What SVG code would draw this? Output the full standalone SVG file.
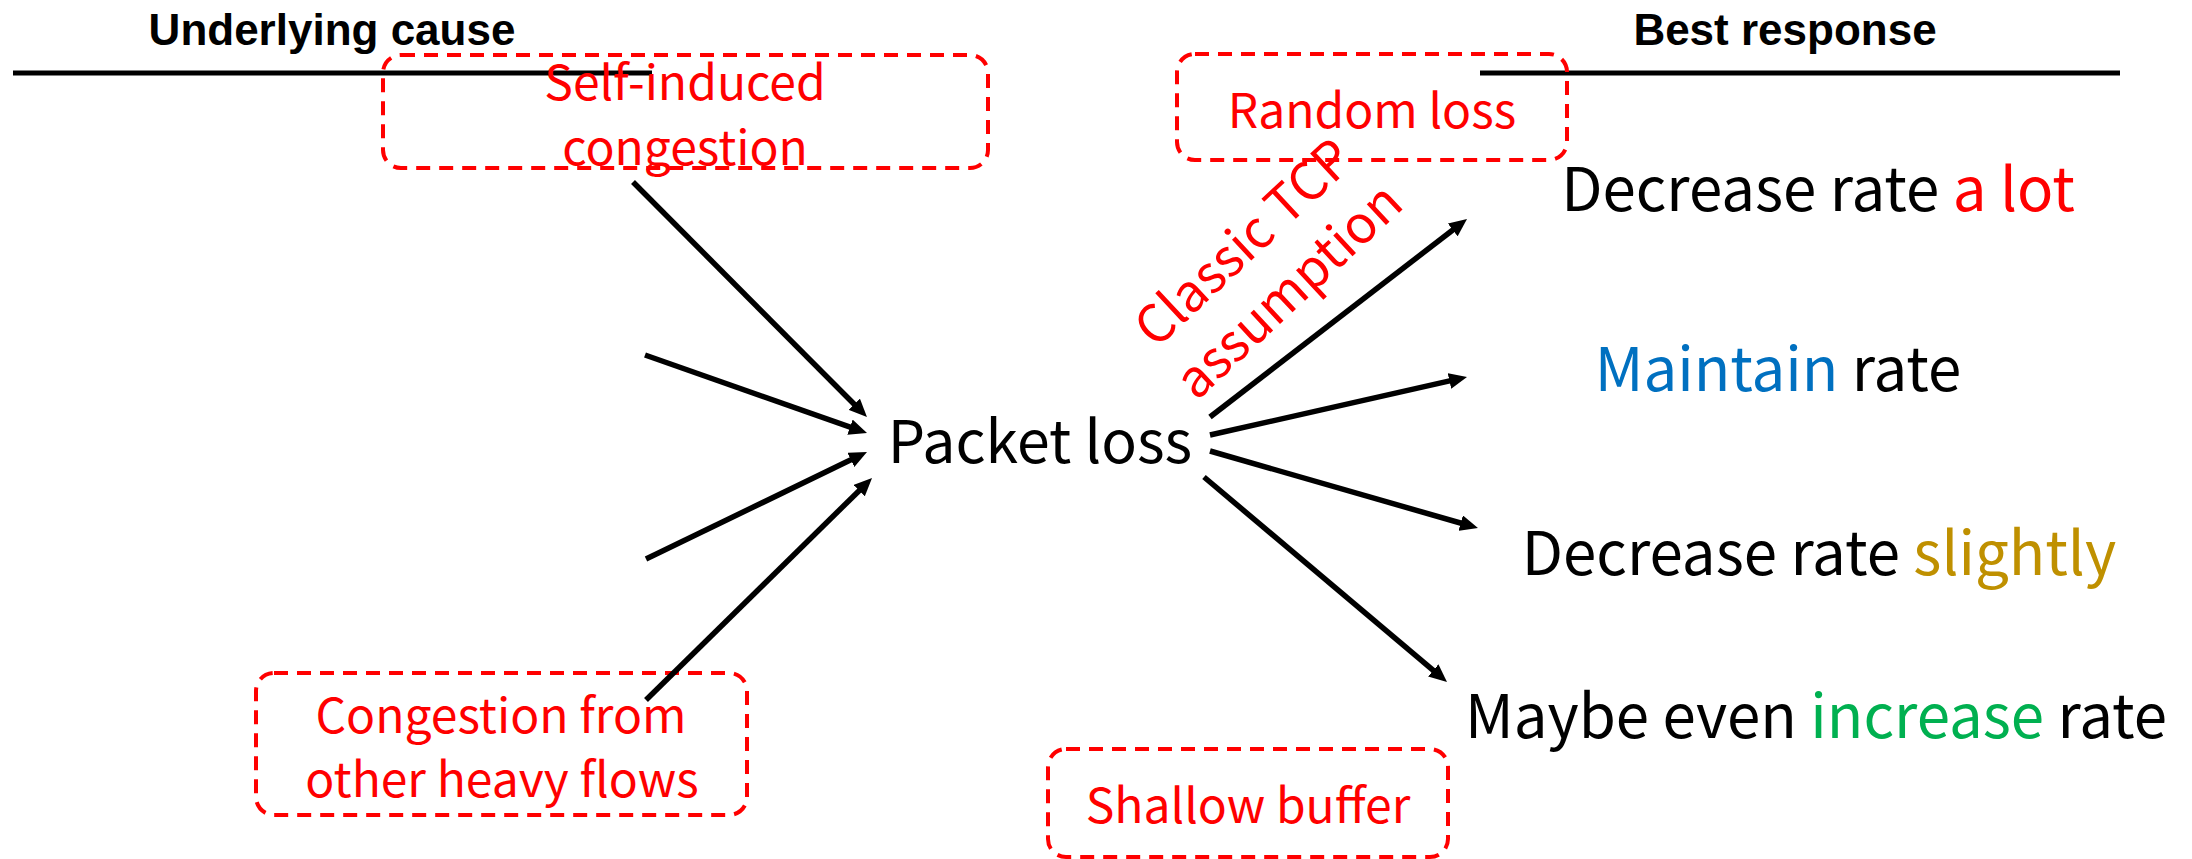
<svg xmlns="http://www.w3.org/2000/svg" width="2192" height="859" viewBox="0 0 2192 859">
<style>
.hdr{font-family:"Liberation Sans",Arial,sans-serif;font-weight:bold;font-size:44px;fill:#000;text-anchor:middle}
.lbl{font-family:"Noto Sans CJK SC","Noto Sans",sans-serif;font-size:48px;fill:#FF0000;text-anchor:middle}
.main{font-family:"Noto Sans CJK SC","Noto Sans",sans-serif;font-size:60px;fill:#000;text-anchor:middle}
.box{fill:none;stroke:#FF0000;stroke-width:4;stroke-dasharray:14 9}
.rule{stroke:#000;stroke-width:5}
.arr{stroke:#000;stroke-width:5.5;fill:none;marker-end:url(#ah)}
</style>
<defs>
<marker id="ah" markerUnits="userSpaceOnUse" markerWidth="20" markerHeight="16" refX="7" refY="8" orient="auto">
<path d="M0,0 L18,8 L0,16 z" fill="#000"/>
</marker>
</defs>
<rect width="2192" height="859" fill="#fff"/>
<g id="headers">
<text class="hdr" x="332" y="45">Underlying cause</text>
<line class="rule" x1="13" y1="73" x2="652" y2="73"/>
<text class="hdr" x="1785" y="45">Best response</text>
<line class="rule" x1="1480" y1="73" x2="2120" y2="73"/>
</g>
<g id="self-induced">
<rect class="box" x="383" y="55" width="605" height="113" rx="18"/>
<text class="lbl" x="685" y="100">Self-induced</text>
<text class="lbl" x="685" y="165">congestion</text>
</g>
<g id="random-loss">
<rect class="box" x="1177" y="54" width="390" height="106" rx="18"/>
<text class="lbl" x="1372" y="128">Random loss</text>
</g>
<g id="congestion-other">
<rect class="box" x="256" y="673" width="491" height="142" rx="18"/>
<text class="lbl" x="501" y="733">Congestion from</text>
<text class="lbl" x="502" y="797">other heavy flows</text>
</g>
<g id="shallow-buffer">
<rect class="box" x="1048" y="749" width="400" height="108" rx="18"/>
<text class="lbl" x="1248" y="823">Shallow buffer</text>
</g>
<g id="classic-tcp">
<text class="lbl" style="font-size:52px" transform="translate(1256,256) rotate(-43)"><tspan x="0" y="0">Classic TCP</tspan><tspan x="0" y="66">assumption</tspan></text>
</g>
<g id="packet-loss">
<text class="main" x="1040" y="463" style="font-size:59px">Packet loss</text>
</g>
<g id="resp-alot">
<text class="main" x="1818" y="211">Decrease rate <tspan fill="#FF0000">a lot</tspan></text>
</g>
<g id="resp-maintain">
<text class="main" x="1778" y="391"><tspan fill="#0070C0">Maintain</tspan> rate</text>
</g>
<g id="resp-slightly">
<text class="main" x="1819" y="575">Decrease rate <tspan fill="#BF9000">slightly</tspan></text>
</g>
<g id="resp-increase">
<text class="main" x="1816" y="738">Maybe even <tspan fill="#00B050">increase</tspan> rate</text>
</g>
<g id="connectors">
<line class="arr" x1="633" y1="182" x2="859.2" y2="409.2"/>
<line class="arr" x1="645" y1="355" x2="856.6" y2="429.4"/>
<line class="arr" x1="646" y1="559" x2="857.1" y2="456.8"/>
<line class="arr" x1="646" y1="700" x2="864.2" y2="485.7"/>
<line class="arr" x1="1210" y1="417" x2="1458.3" y2="225.7"/>
<line class="arr" x1="1210" y1="435" x2="1456.3" y2="379.4"/>
<line class="arr" x1="1210" y1="451" x2="1467.4" y2="525"/>
<line class="arr" x1="1204" y1="477" x2="1438.6" y2="674.9"/>
</g>
</svg>
